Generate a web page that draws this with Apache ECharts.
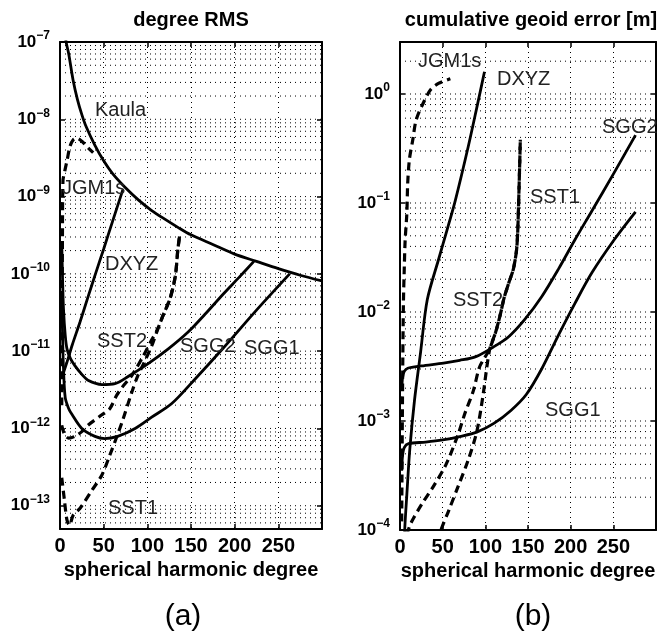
<!DOCTYPE html>
<html><head><meta charset="utf-8">
<script src="https://cdn.jsdelivr.net/npm/echarts@6/dist/echarts.min.js"></script>
<style>html,body{margin:0;padding:0;background:#fff}#c{width:659px;height:635px}</style>
</head><body><div id="c"></div>
<script>
// ---- (a) degree RMS: [degree, value] ----
const kaulaL = [[6,1.35e-7],[7,1.0e-7],[10,7e-8],[15,3.2e-8],[20,1.8e-8],[25,1.15e-8],[30,8e-9],[40,4.6e-9],[50,2.9e-9],[60,2.0e-9],[75,1.3e-9],[90,9e-10],[105,6.6e-10],[120,5.1e-10],[135,4.0e-10],[150,3.2e-10],[175,2.4e-10],[200,1.8e-10],[225,1.45e-10],[250,1.17e-10],[275,9.6e-11],[300,8.1e-11]];
const jgmL = [[2,2e-12],[2.8,3e-10],[3.4,1.6e-9],[5.7,2.2e-9],[8,2.9e-9],[11.5,4.5e-9],[15,5.4e-9],[19,5.7e-9],[25,5.2e-9],[32,4.3e-9],[38,3.7e-9]];
const dxyzL = [[2,4.5e-12],[8,7.2e-12],[14,1.2e-11],[23,2.4e-11],[32,5e-11],[41,1.03e-10],[50,2.1e-10],[60,4.7e-10],[72,1.23e-9]];
const sgg2L = [[2,2.5e-10],[3,8e-11],[4,3.5e-11],[6,1.6e-11],[8,1.07e-11],[12,8e-12],[17,6.5e-12],[25,5e-12],[32,4.2e-12],[48,3.7e-12],[63,3.8e-12],[78,4.7e-12],[101,6.9e-12],[124,1.07e-11],[147,1.78e-11],[166,3e-11],[187,5.5e-11],[205,9e-11],[222,1.45e-10]];
const sgg1L = [[2,6e-11],[3,1.5e-11],[4,6e-12],[6,2.5e-12],[10,1.8e-12],[14,1.5e-12],[25,1e-12],[40,7.9e-13],[51,7.4e-13],[66,7.9e-13],[86,1e-12],[105,1.4e-12],[128,2.1e-12],[155,4.4e-12],[187,1.1e-11],[225,3.4e-11],[263,1.0e-10]];
const sst1L = [[2,2.3e-13],[5,1.2e-13],[8,6.5e-14],[11,5.6e-14],[15,7.5e-14],[23,9.3e-14],[36,1.55e-13],[48,2.5e-13],[57,4.5e-13],[65,7.8e-13],[72,1.3e-12],[82,2.9e-12],[89,4.8e-12],[96,7e-12],[105,1.17e-11],[111,1.8e-11],[118,2.9e-11],[126,4.8e-11],[132,9.3e-11],[135,2.1e-10],[137,3.1e-10]];
const sst2L = [[2,1.1e-12],[5,8.5e-13],[10,7.5e-13],[17,7.9e-13],[25,9.1e-13],[32,1.1e-12],[48,1.5e-12],[57,1.8e-12],[65,2.7e-12],[72,3.5e-12],[82,4.8e-12],[95,8.5e-12],[105,1.4e-11],[111,1.85e-11],[118,2.9e-11],[126,4.8e-11],[132,9.3e-11],[135,2.1e-10],[137,3.1e-10]];

// ---- (b) cumulative geoid error [m] ----
const jgmR = [[2,1.2e-4],[3,2e-3],[4,1.2e-2],[5,2.5e-2],[6,4.5e-2],[8,8e-2],[9,0.15],[11,0.25],[15,0.38],[19,0.58],[28,0.85],[36,1.1],[45,1.25],[59,1.38]];
const dxyzR = [[5,7e-5],[5.7,1.07e-4],[8,2.1e-4],[11.4,5.4e-4],[17,1.55e-3],[24,4.2e-3],[32,1.3e-2],[45,3e-2],[55,5.6e-2],[65,0.107],[80,0.33],[90,0.75],[99,1.6]];
const sgg2R = [[2,1.9e-3],[3,2.5e-3],[5,2.85e-3],[9,3.05e-3],[25,3.2e-3],[51,3.4e-3],[70,3.6e-3],[89,3.9e-3],[108,4.7e-3],[127,5.9e-3],[146,8.5e-3],[166,1.38e-2],[186,2.5e-2],[205,4.6e-2],[225,8.5e-2],[251,0.19],[276,0.42]];
const sgg1R = [[2,3.5e-4],[3,4.8e-4],[5,5.7e-4],[10,6.2e-4],[30,6.4e-4],[50,6.7e-4],[70,7.2e-4],[90,7.9e-4],[110,9.5e-4],[130,1.25e-3],[148,1.75e-3],[166,3e-3],[186,6.2e-3],[205,1.2e-2],[225,2.3e-2],[251,4.6e-2],[276,8.3e-2]];
const sst1R = [[40,6e-5],[48,1e-4],[57,1.5e-4],[68,2.5e-4],[80,4.4e-4],[90,8e-4],[97,1.66e-3],[105,4.5e-3],[112,6.5e-3],[118,9.8e-3],[122,1.35e-2],[128,1.9e-2],[133,2.5e-2],[137,4e-2],[139,0.1],[141,0.38]];
const sst2R = [[8,9e-5],[11,1.07e-4],[15,1.25e-4],[26,1.75e-4],[39,2.5e-4],[54,4e-4],[68,7.5e-4],[76,1.17e-3],[86,1.9e-3],[93,3.1e-3],[100,3.9e-3],[105,4.6e-3],[112,6.5e-3],[118,9.8e-3],[122,1.35e-2],[128,1.9e-2],[133,2.5e-2],[137,4e-2],[139,0.1],[141,0.38]];

// ---- axis ranges / ticks ----
const xRange = [0, 300];
const xStep = 50;
const yRangeL = [5e-14, 1e-7];
const yRangeR = [1e-4, 3];

const FONT = '"Liberation Sans", Arial, Helvetica, sans-serif';

function yFmt(v) {
  const l = Math.log10(v), e = Math.round(l);
  if (Math.abs(l - e) > 1e-6) return '';
  return '{b|10}{s|' + (e < 0 ? '\u2212' : '') + Math.abs(e) + '}';
}
const yRich = {
  b: {fontSize: 17, fontWeight: 'bold', fontFamily: FONT, color: '#000'},
  s: {fontSize: 12, fontWeight: 'bold', fontFamily: FONT, color: '#000', padding: [0, 0, 12, 0]}
};
const dotStyle = {type: [1, 4], color: '#000', width: 1};

function xAxisMain(g) {
  return {
    type: 'value', gridIndex: g, min: xRange[0], max: xRange[1], interval: xStep,
    axisLine: {show: true, onZero: false, lineStyle: {color: '#000', width: 2}},
    axisTick: {inside: true, length: 5, lineStyle: {color: '#000', width: 1.5}},
    axisLabel: {formatter: v => (v === xRange[1] ? '' : String(v)), fontSize: 20, fontWeight: 'bold', color: '#000', fontFamily: FONT, margin: 7},
    splitLine: {show: true, lineStyle: dotStyle},
    name: 'spherical harmonic degree', nameLocation: 'middle', nameGap: 30,
    nameTextStyle: {fontSize: 20, fontWeight: 'bold', color: '#000', fontFamily: FONT}
  };
}
function xAxisTop(g) {
  return {
    type: 'value', gridIndex: g, position: 'top', min: xRange[0], max: xRange[1], interval: xStep,
    axisLine: {show: true, onZero: false, lineStyle: {color: '#000', width: 2}},
    axisTick: {inside: true, length: 5, lineStyle: {color: '#000', width: 1.5}},
    axisLabel: {show: false}, splitLine: {show: false}
  };
}
function yAxisMain(g, r) {
  return {
    type: 'log', logBase: 10, gridIndex: g, min: r[0], max: r[1],
    axisLine: {show: true, onZero: false, lineStyle: {color: '#000', width: 2}},
    axisTick: {inside: true, length: 5, lineStyle: {color: '#000', width: 1.5}},
    axisLabel: {formatter: yFmt, rich: yRich, margin: 10},
    splitLine: {show: false}
  };
}
function yAxisRight(g, r) {
  return {
    type: 'log', logBase: 10, gridIndex: g, position: 'right', min: r[0], max: r[1],
    axisLine: {show: true, onZero: false, lineStyle: {color: '#000', width: 2}},
    axisTick: {inside: true, length: 5, lineStyle: {color: '#000', width: 1.5}},
    axisLabel: {show: false}, splitLine: {show: false}
  };
}
// horizontal log grid (1..9 x 10^n), drawn as broken polyline through the axis scales
function gridData(r) {
  const out = [];
  const e0 = Math.floor(Math.log10(r[0])), e1 = Math.ceil(Math.log10(r[1]));
  for (let e = e0; e <= e1; e++) for (let k = 1; k <= 9; k++) {
    const v = Number((k * Math.pow(10, e)).toPrecision(3));
    if (v > r[0] * 1.0001 && v < r[1] * 0.9999) {
      out.push([xRange[0], v], [xRange[1], v], [xRange[1], '-']);
    }
  }
  return out;
}
function gridSeries(xi, yi, r) {
  return {
    type: 'line', xAxisIndex: xi, yAxisIndex: yi, data: gridData(r), silent: true,
    showSymbol: false, symbol: 'none', connectNulls: false, z: 1, animation: false,
    lineStyle: dotStyle
  };
}
function curve(data, xi, yi, dashed) {
  return {
    type: 'line', xAxisIndex: xi, yAxisIndex: yi, data: data, showSymbol: false, symbol: 'none',
    smooth: 0.3, clip: true, z: 3, silent: true, animation: false,
    lineStyle: dashed ? {color: '#000', width: 3.2, type: [8, 5]} : {color: '#000', width: 2.8}
  };
}

const labelFont = '20px ' + FONT;
function txt(s, x, y, font, align) {
  return {type: 'text', x: x, y: y, z: 10, style: {text: s, font: font, fill: '#000', align: align || 'left', verticalAlign: 'middle'}};
}
function clbl(s, x, y) {
  return {type: 'text', x: x, y: y, z: 10, style: {text: s, font: labelFont, fill: '#222', align: 'left', verticalAlign: 'middle'}};
}

const option = {
  backgroundColor: '#fff',
  animation: false,
  grid: [
    {left: 60, top: 42, width: 262, height: 487, show: false},
    {left: 400, top: 42, width: 263, height: 488, show: false}
  ],
  xAxis: [xAxisMain(0), xAxisTop(0), xAxisMain(1), xAxisTop(1)],
  yAxis: [yAxisMain(0, yRangeL), yAxisRight(0, yRangeL), yAxisMain(1, yRangeR), yAxisRight(1, yRangeR)],
  series: [
    gridSeries(0, 0, yRangeL),
    gridSeries(2, 2, yRangeR),
    curve(kaulaL, 0, 0, false),
    curve(jgmL, 0, 0, true),
    curve(dxyzL, 0, 0, false),
    curve(sgg2L, 0, 0, false),
    curve(sgg1L, 0, 0, false),
    curve(sst1L, 0, 0, true),
    curve(sst2L, 0, 0, true),
    curve(jgmR, 2, 2, true),
    curve(dxyzR, 2, 2, false),
    curve(sgg2R, 2, 2, false),
    curve(sgg1R, 2, 2, false),
    curve(sst1R, 2, 2, true),
    curve(sst2R, 2, 2, true)
  ],
  graphic: [
    txt('degree RMS', 191, 20, 'bold 20px ' + FONT, 'center'),
    txt('cumulative geoid error [m]', 531, 20, 'bold 20px ' + FONT, 'center'),
    txt('(a)', 183, 617, '30px ' + FONT, 'center'),
    txt('(b)', 533, 617, '30px ' + FONT, 'center'),
    clbl('Kaula', 95, 110),
    clbl('JGM1s', 62, 188),
    clbl('DXYZ', 105, 264),
    clbl('SST2', 97, 341),
    clbl('SGG2', 180, 346),
    clbl('SGG1', 244, 348),
    clbl('SST1', 108, 508),
    clbl('JGM1s', 418, 61),
    clbl('DXYZ', 497, 79),
    clbl('SGG2', 602, 127),
    clbl('SST1', 530, 197),
    clbl('SST2', 453, 300),
    clbl('SGG1', 545, 410)
  ]
};
const chart = echarts.init(document.getElementById('c'), null, {renderer: 'canvas'});
chart.setOption(option);
</script></body></html>
